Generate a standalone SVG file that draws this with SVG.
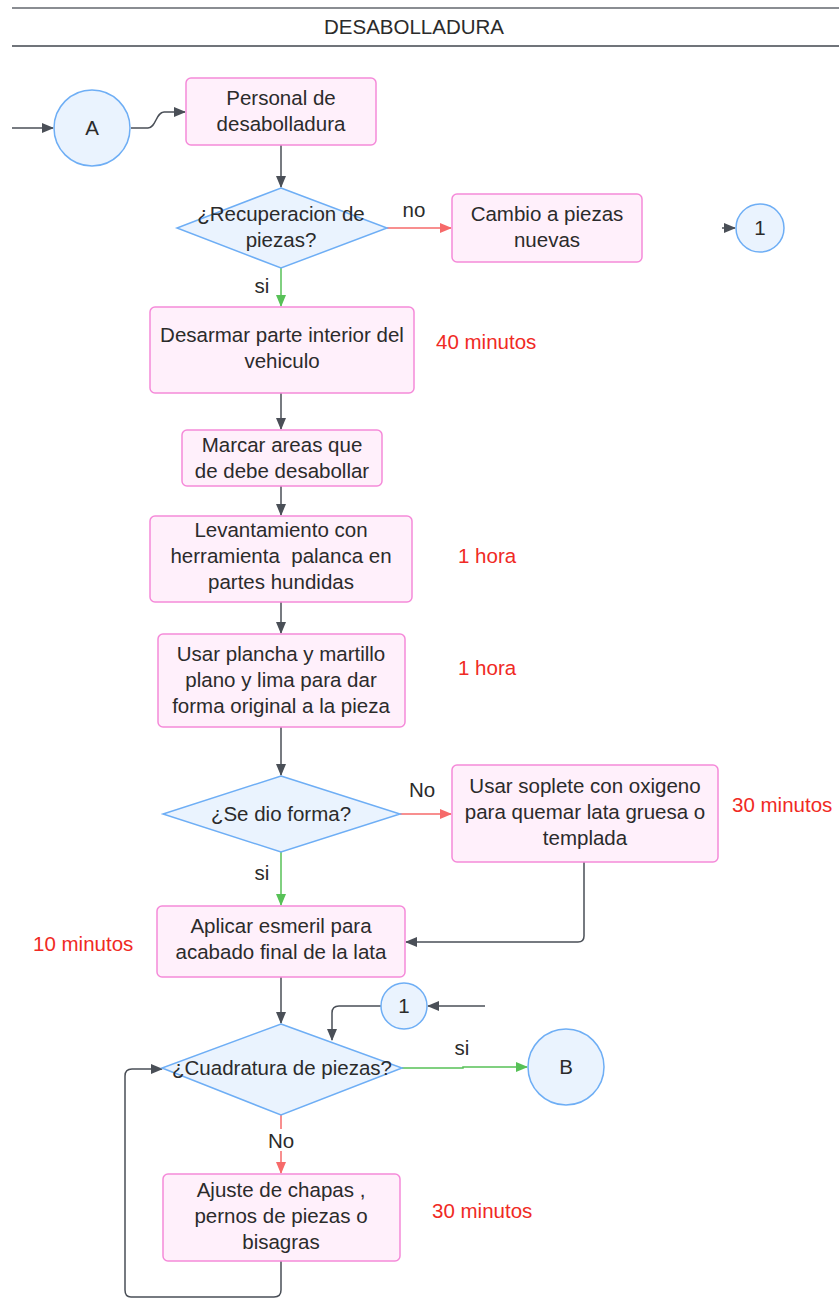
<svg xmlns="http://www.w3.org/2000/svg" width="839" height="1299" viewBox="0 0 839 1299">
<style>
text{font-family:"Liberation Sans",Arial,sans-serif;font-size:20.5px;fill:#2b2b2b;text-anchor:middle}
.t{fill:#f02a24;text-anchor:start}
.box{fill:#fff0fb;stroke:#f58ad9;stroke-width:1.5}
.dia{fill:#eaf3fe;stroke:#6eaef5;stroke-width:1.5}
.cir{fill:#eaf3fe;stroke:#6eaef5;stroke-width:1.5}
.g{fill:none;stroke:#4a4f57;stroke-width:1.5}
.r{fill:none;stroke:#f66a6a;stroke-width:1.5}
.gr{fill:none;stroke:#57c157;stroke-width:1.5}
</style>
<defs>
<marker id="ag" markerWidth="12" markerHeight="10" refX="11" refY="5" orient="auto" markerUnits="userSpaceOnUse"><path d="M0,0 L12,5 L0,10 z" fill="#4a4f57"/></marker>
<marker id="ar" markerWidth="12" markerHeight="10" refX="11" refY="5" orient="auto" markerUnits="userSpaceOnUse"><path d="M0,0 L12,5 L0,10 z" fill="#f66a6a"/></marker>
<marker id="agr" markerWidth="12" markerHeight="10" refX="11" refY="5" orient="auto" markerUnits="userSpaceOnUse"><path d="M0,0 L12,5 L0,10 z" fill="#57c157"/></marker>
</defs>
<g id="header">
<line x1="12" y1="8" x2="839" y2="8" stroke="#8a8d92" stroke-width="2"/>
<line x1="12" y1="46" x2="839" y2="46" stroke="#70747a" stroke-width="2"/>
<text x="414" y="34">DESABOLLADURA</text>
</g>
<g id="connectors">
<line class="g" x1="12" y1="128" x2="53" y2="128" marker-end="url(#ag)"/>
<path class="g" d="M131,128 L148,128 C156,128 156,112 164,112 L185,112" marker-end="url(#ag)"/>
<line class="g" x1="281" y1="145" x2="281" y2="187" marker-end="url(#ag)"/>
<line class="r" x1="387" y1="228" x2="451" y2="228" marker-end="url(#ar)"/>
<line class="g" x1="722" y1="228" x2="735" y2="228" marker-end="url(#ag)"/>
<line class="gr" x1="281" y1="268" x2="281" y2="306" marker-end="url(#agr)"/>
<line class="g" x1="281" y1="393" x2="281" y2="429" marker-end="url(#ag)"/>
<line class="g" x1="281" y1="486" x2="281" y2="515" marker-end="url(#ag)"/>
<line class="g" x1="281" y1="602" x2="281" y2="633" marker-end="url(#ag)"/>
<line class="g" x1="281" y1="727" x2="281" y2="775" marker-end="url(#ag)"/>
<line class="r" x1="400" y1="814" x2="451" y2="814" marker-end="url(#ar)"/>
<line class="gr" x1="281" y1="852" x2="281" y2="905" marker-end="url(#agr)"/>
<path class="g" d="M584,862 L584,936 Q584,942 578,942 L406,942" marker-end="url(#ag)"/>
<line class="g" x1="281" y1="977" x2="281" y2="1023" marker-end="url(#ag)"/>
<line class="g" x1="485" y1="1006" x2="428" y2="1006" marker-end="url(#ag)"/>
<path class="g" d="M381,1006 L339,1006 Q332,1006 332,1013 L332,1040" marker-end="url(#ag)"/>
<path class="gr" d="M402,1068 L463,1068 L463,1067 L527,1067" marker-end="url(#agr)"/>
<line class="r" x1="281" y1="1115" x2="281" y2="1173" marker-end="url(#ar)"/>
<path class="g" d="M281,1261 L281,1290 Q281,1297 274,1297 L131,1297 Q125,1297 125,1290 L125,1076 Q125,1069 132,1069 L162,1069" marker-end="url(#ag)"/>
</g>
<g id="circleA"><circle class="cir" cx="92" cy="128" r="38"/><text x="92" y="135">A</text></g>
<g id="personal"><rect class="box" x="186" y="78" width="190" height="67" rx="5"/><text x="281" y="105">Personal de</text><text x="281" y="131">desabolladura</text></g>
<g id="dRecuperacion"><polygon class="dia" points="281,188 387,228 281,268 177,228"/><text x="281" y="221">¿Recuperacion de</text><text x="281" y="247">piezas?</text></g>
<g id="lblNo1"><text x="414" y="217">no</text></g>
<g id="cambio"><rect class="box" x="452" y="194" width="190" height="68" rx="5"/><text x="547" y="221">Cambio a piezas</text><text x="547" y="247">nuevas</text></g>
<g id="circle1a"><circle class="cir" cx="760" cy="228" r="24"/><text x="760" y="235">1</text></g>
<g id="lblSi1"><text x="262" y="293">si</text></g>
<g id="desarmar"><rect class="box" x="150" y="307" width="264" height="86" rx="5"/><text x="282" y="342">Desarmar parte interior del</text><text x="282" y="368">vehiculo</text></g>
<text class="t" x="436" y="349">40 minutos</text>
<g id="marcar"><rect class="box" x="182" y="430" width="200" height="56" rx="5"/><text x="282" y="452">Marcar areas que</text><text x="282" y="478">de debe desabollar</text></g>
<g id="levantamiento"><rect class="box" x="150" y="516" width="262" height="86" rx="5"/><text x="281" y="537">Levantamiento con</text><text x="281" y="563" style="white-space:pre">herramienta  palanca en</text><text x="281" y="589">partes hundidas</text></g>
<text class="t" x="458" y="563">1 hora</text>
<g id="usarPlancha"><rect class="box" x="158" y="634" width="247" height="93" rx="5"/><text x="281" y="661">Usar plancha y martillo</text><text x="281" y="687">plano y lima para dar</text><text x="281" y="713">forma original a la pieza</text></g>
<text class="t" x="458" y="675">1 hora</text>
<g id="dForma"><polygon class="dia" points="281,776 400,814 281,852 163,814"/><text x="281" y="821">¿Se dio forma?</text></g>
<g id="lblNo2"><text x="422" y="797">No</text></g>
<g id="soplete"><rect class="box" x="452" y="765" width="266" height="97" rx="5"/><text x="585" y="793">Usar soplete con oxigeno</text><text x="585" y="819">para quemar lata gruesa o</text><text x="585" y="845">templada</text></g>
<text class="t" x="732" y="812">30 minutos</text>
<g id="lblSi2"><text x="262" y="880">si</text></g>
<g id="esmeril"><rect class="box" x="157" y="906" width="248" height="71" rx="5"/><text x="281" y="933">Aplicar esmeril para</text><text x="281" y="959">acabado final de la lata</text></g>
<text class="t" x="33" y="951">10 minutos</text>
<g id="circle1b"><circle class="cir" cx="404" cy="1006" r="23"/><text x="404" y="1013">1</text></g>
<g id="dCuadratura"><polygon class="dia" points="281,1024 402,1068 281,1115 162,1068"/><text x="282" y="1075">¿Cuadratura de piezas?</text></g>
<g id="lblSi3"><text x="462" y="1055">si</text></g>
<g id="circleB"><circle class="cir" cx="566" cy="1067" r="38"/><text x="566" y="1074">B</text></g>
<g id="lblNo3"><rect x="268" y="1129" width="26" height="22" fill="#fff"/><text x="281" y="1148">No</text></g>
<g id="ajuste"><rect class="box" x="163" y="1174" width="237" height="87" rx="5"/><text x="281" y="1197">Ajuste de chapas ,</text><text x="281" y="1223">pernos de piezas o</text><text x="281" y="1249">bisagras</text></g>
<text class="t" x="432" y="1218">30 minutos</text>
</svg>
